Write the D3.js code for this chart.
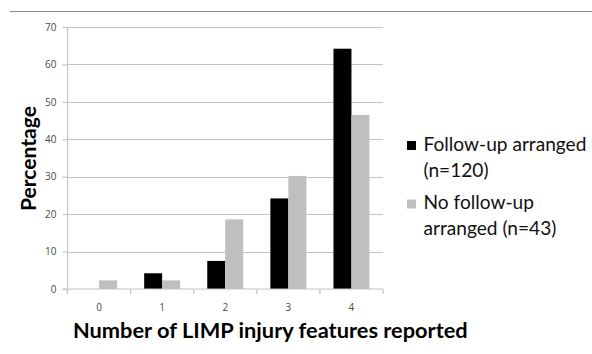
<!DOCTYPE html>
<html>
<head>
<meta charset="utf-8">
<script src="https://cdn.jsdelivr.net/npm/d3@7"></script>
<style>
  html, body { margin: 0; padding: 0; background: #fff; }
  svg { display: block; }
</style>
</head>
<body>
<svg id="chart" width="592" height="354"></svg>
<script>
// Share of children by number of LIMP injury features reported
const categories = ["0", "1", "2", "3", "4"];
const followUp = [0, 4.2, 7.5, 24.2, 64.2];       // follow-up arranged (n=120)
const noFollowUp = [2.3, 2.3, 18.6, 30.2, 46.5];  // no follow-up arranged (n=43)
const seriesNames = ["Follow-up arranged (n=120)", "No follow-up arranged (n=43)"];
const legendLines = [["Follow-up arranged", "(n=120)"], ["No follow-up", "arranged (n=43)"]];
const yTicks = [0, 10, 20, 30, 40, 50, 60, 70];

const colors = ["#000000", "#bfbfbf"];
const gridColor = "#c4c4c4";
const tickTextColor = "#4a4a4a";
const fontFamily = "Lato, 'Open Sans', sans-serif";

const svg = d3.select("#chart");

// thin rule across the top
svg.append("line")
  .attr("x1", 10).attr("x2", 592)
  .attr("y1", 11.5).attr("y2", 11.5)
  .attr("stroke", "#8a8a8a").attr("stroke-width", 1);

const plot = { left: 67.5, right: 383, top: 27, bottom: 289 };

const x = d3.scaleBand()
  .domain(categories)
  .range([plot.left, plot.right])
  .paddingInner(0.43)
  .paddingOuter(0.215);

const xSub = d3.scaleBand()
  .domain([0, 1])
  .range([0, x.bandwidth()]);

const y = d3.scaleLinear()
  .domain([0, 70])
  .range([plot.bottom, plot.top]);

// horizontal gridlines
svg.append("g")
  .selectAll("line")
  .data(yTicks.filter(d => d > 0))
  .join("line")
  .attr("x1", plot.left).attr("x2", plot.right)
  .attr("y1", d => Math.round(y(d)) + 0.5)
  .attr("y2", d => Math.round(y(d)) + 0.5)
  .attr("stroke", gridColor).attr("stroke-width", 1.2);

// bars
const rows = categories.map((c, i) => ({ c, vals: [followUp[i], noFollowUp[i]] }));
svg.append("g")
  .selectAll("g")
  .data(rows)
  .join("g")
  .attr("transform", d => `translate(${x(d.c)},0)`)
  .selectAll("rect")
  .data(d => d.vals.map((v, k) => ({ v, k })))
  .join("rect")
  .attr("x", d => xSub(d.k))
  .attr("width", xSub.bandwidth())
  .attr("y", d => y(d.v))
  .attr("height", d => y(0) - y(d.v))
  .attr("fill", d => colors[d.k]);

// y axis
const yAxis = svg.append("g")
  .attr("transform", `translate(${plot.left},0)`)
  .call(d3.axisLeft(y).tickValues(yTicks).tickSize(5).tickPadding(6));
yAxis.select(".domain").attr("stroke", gridColor).attr("stroke-width", 1.2)
  .attr("d", `M0,${plot.top}V${plot.bottom}`);
yAxis.selectAll(".tick line").attr("stroke", gridColor).attr("stroke-width", 1.2);
yAxis.selectAll(".tick text")
  .attr("fill", tickTextColor)
  .style("font-family", "'Open Sans', sans-serif")
  .style("font-size", "10px");

// x axis: tick marks at category boundaries, labels centred under each group
const xAxisG = svg.append("g").attr("transform", `translate(0,${plot.bottom})`);
xAxisG.append("line")
  .attr("x1", plot.left - 5).attr("x2", plot.right)
  .attr("stroke", gridColor).attr("stroke-width", 1.2);
const step = x.step();
const boundaries = d3.range(categories.length + 1).map(i => plot.left + i * step);
xAxisG.selectAll("line.tk")
  .data(boundaries)
  .join("line")
  .attr("class", "tk")
  .attr("x1", d => d).attr("x2", d => d)
  .attr("y1", 0).attr("y2", 5)
  .attr("stroke", gridColor).attr("stroke-width", 1.2);
xAxisG.selectAll("text")
  .data(categories)
  .join("text")
  .attr("x", d => x(d) + x.bandwidth() / 2)
  .attr("y", 22)
  .attr("text-anchor", "middle")
  .attr("fill", tickTextColor)
  .style("font-family", "'Open Sans', sans-serif")
  .style("font-size", "10px")
  .text(d => d);

// fit a text element to a given width by adjusting its font size
function fitWidth(sel, width) {
  const w = sel.node().getComputedTextLength();
  const fs = parseFloat(sel.style("font-size"));
  if (w > 0) sel.style("font-size", (fs * width / w) + "px");
  return sel;
}

// axis titles
const xTitle = svg.append("text")
  .attr("x", 73).attr("y", 337.5)
  .attr("fill", "#000")
  .style("font-family", fontFamily)
  .style("font-weight", "bold")
  .style("font-size", "18px")
  .text("Number of LIMP injury features reported");
fitWidth(xTitle, 395);

const yTitle = svg.append("text")
  .attr("transform", "translate(36,158.5) rotate(-90)")
  .attr("text-anchor", "middle")
  .attr("fill", "#000")
  .style("font-family", fontFamily)
  .style("font-weight", "bold")
  .style("font-size", "18px")
  .text("Percentage");
fitWidth(yTitle, 105);

// legend
const legend = svg.append("g");
const entryTop = [141, 199.5];
legendLines.forEach((lines, k) => {
  const g = legend.append("g").attr("aria-label", seriesNames[k]);
  g.append("rect")
    .attr("x", 407).attr("y", entryTop[k])
    .attr("width", 9).attr("height", 9)
    .attr("fill", colors[k]);
  lines.forEach((t, j) => {
    g.append("text")
      .attr("x", 423.5)
      .attr("y", entryTop[k] + 9.8 + j * 25.7)
      .attr("fill", "#111")
      .style("font-family", fontFamily)
      .style("font-size", "17px")
      .text(t);
  });
});
// size legend text from the widest line
const probe = legend.selectAll("text").filter(function () { return this.textContent === "Follow-up arranged"; });
const pw = probe.node().getComputedTextLength();
const lfs = 17 * 163 / pw;
legend.selectAll("text").style("font-size", lfs + "px");
</script>
</body>
</html>
